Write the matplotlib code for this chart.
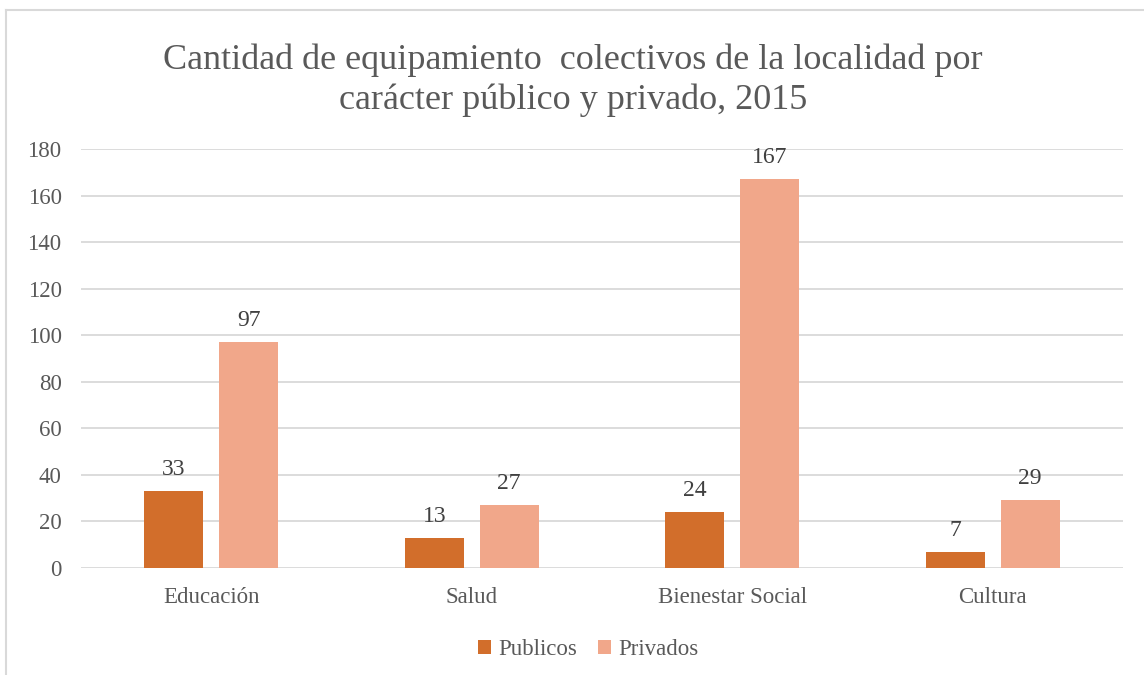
import numpy as np
import matplotlib.pyplot as plt
from matplotlib.lines import Line2D

plt.rcParams['font.family'] = ['Liberation Serif', 'DejaVu Serif']

# datos del grafico
categorias = ['Educación', 'Salud', 'Bienestar Social', 'Cultura']
publicos = [33, 13, 24, 7]
privados = [97, 27, 167, 29]
ticks_y = [0, 20, 40, 60, 80, 100, 120, 140, 160, 180]

gris = '#595959'
c_pub = '#D26E2B'
c_priv = '#F1A78A'

fig = plt.figure(figsize=(11.44, 6.75), dpi=100)
ax = fig.add_axes([81 / 1144, 107 / 675, 1042 / 1144, 419 / 675])

x = np.arange(len(categorias))
ancho = 0.227
desp = ancho / 2 + 0.03

b1 = ax.bar(x - desp, publicos, ancho, color=c_pub, label='Publicos', zorder=3)
b2 = ax.bar(x + desp, privados, ancho, color=c_priv, label='Privados', zorder=3)

for barras in (b1, b2):
    ax.bar_label(barras, padding=8, fontsize=17, color='#404040')

ax.set_xlim(-0.5, len(categorias) - 0.5)
ax.set_ylim(0, 180)
ax.set_yticks(ticks_y)
ax.set_xticks(x)
ax.set_xticklabels(categorias)
ax.tick_params(axis='both', length=0, labelsize=16.5, colors=gris)
ax.tick_params(axis='x', pad=14)
ax.tick_params(axis='y', pad=14)
ax.grid(axis='y', color='#D9D9D9', linewidth=1.3, zorder=0)
for s in ax.spines.values():
    s.set_visible(False)

fig.suptitle('Cantidad de equipamiento  colectivos de la localidad por\ncarácter público y privado, 2015',
             x=0.501, y=0.935, fontsize=26, color=gris, linespacing=1.25)

ax.legend(loc='center', bbox_to_anchor=(0.487, -0.195), ncol=2, frameon=False,
          fontsize=16.5, labelcolor=gris, handlelength=0.55, handleheight=0.55,
          handletextpad=0.35, columnspacing=0.9)

# marco exterior
fig.add_artist(Line2D([6 / 1144, 6 / 1144], [0, 665 / 675], color='#D9D9D9', linewidth=1.5))
fig.add_artist(Line2D([6 / 1144, 1], [665 / 675, 665 / 675], color='#D9D9D9', linewidth=1.5))

plt.savefig('out.png', dpi=100)
